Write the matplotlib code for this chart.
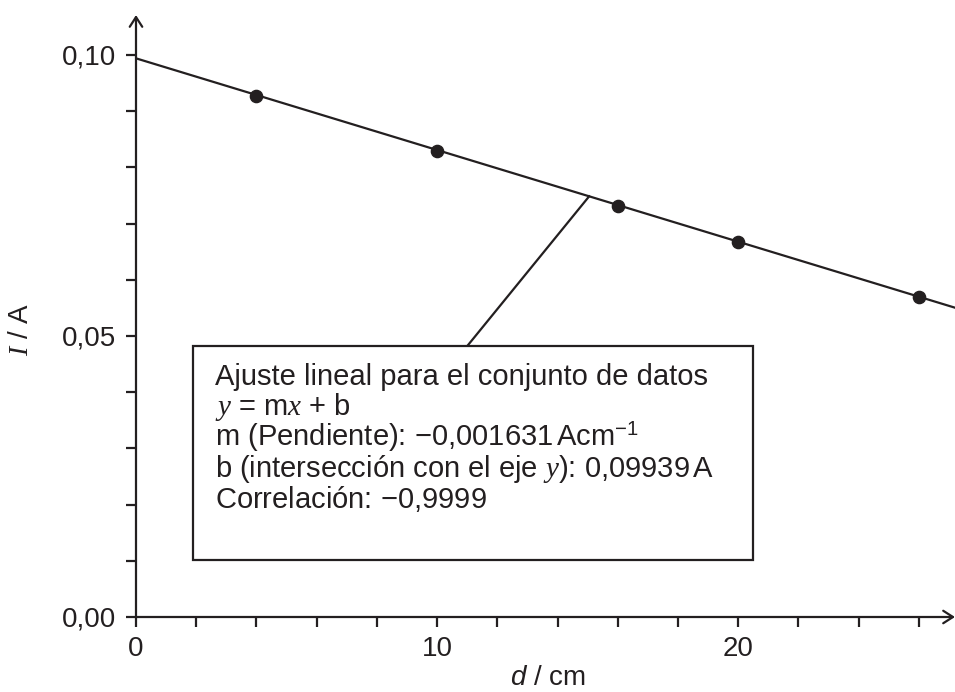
import matplotlib
matplotlib.use("Agg")
import matplotlib.pyplot as plt
from matplotlib.patches import Rectangle
from matplotlib.ticker import FixedLocator, MultipleLocator

plt.rcParams['font.family'] = ['Liberation Sans', 'DejaVu Sans']
plt.rcParams['mathtext.fontset'] = 'custom'
plt.rcParams['mathtext.rm'] = 'Liberation Sans'
plt.rcParams['mathtext.it'] = 'Liberation Serif:italic'
plt.rcParams['mathtext.sf'] = 'Liberation Sans:italic'

ink = '#231f20'

# measured points
d_cm = [4, 10, 16, 20, 26]
i_amp = [0.0927, 0.0829, 0.0731, 0.0667, 0.0570]

# fit results (from the box)
slope = -0.001631
intercept = 0.09939

x_ticks = [0, 10, 20]
x_ticklabels = ['0', '10', '20']
y_ticks = [0.00, 0.05, 0.10]
y_ticklabels = ['0,00', '0,05', '0,10']

box_lines = [
    'Ajuste lineal para el conjunto de datos',
    r'$y$ = m$x$ + b',
    r'm (Pendiente): $-$0,001631$\,$Acm$^{-1}$',
    r'b (intersección con el eje $y$): 0,09939$\,$A',
    r'Correlación: $-$0,9999',
]

fig = plt.figure(figsize=(9.55, 6.92), dpi=100)
ax = fig.add_axes([136 / 955, 75 / 692, 819 / 955, 602 / 692])
xmax, ymax = 27.2, 0.1071
ax.set_xlim(0, xmax)
ax.set_ylim(0, ymax)

for s in ax.spines.values():
    s.set_visible(False)

# axes drawn as arrows
arr = dict(arrowstyle='->,head_length=0.7,head_width=0.45', lw=1.6, color=ink,
           shrinkA=0, shrinkB=0)
ax.annotate('', xy=(0, 1), xytext=(0, 0), xycoords='axes fraction', arrowprops=arr,
            annotation_clip=False)
ax.annotate('', xy=(1.0, 0), xytext=(0, 0), xycoords='axes fraction', arrowprops=arr,
            annotation_clip=False)

ax.xaxis.set_major_locator(FixedLocator(x_ticks))
ax.set_xticklabels(x_ticklabels)
ax.xaxis.set_minor_locator(MultipleLocator(2))
ax.yaxis.set_major_locator(FixedLocator(y_ticks))
ax.set_yticklabels(y_ticklabels)
ax.yaxis.set_minor_locator(MultipleLocator(0.01))
ax.tick_params(which='both', direction='out', length=7.5, width=1.6, color=ink,
               labelsize=20, labelcolor=ink)
ax.tick_params(axis='x', which='major', pad=6)
ax.tick_params(axis='y', which='major', pad=7)

# fit line + points
ax.axline((0, intercept), slope=slope, color=ink, lw=1.6, zorder=3)
ax.plot(d_cm, i_amp, 'o', color=ink, ms=8.8, zorder=4, clip_on=False)

# pointer line and box
ax.plot([11.0, 15.05], [0.0482, intercept + slope * 15.05], color=ink, lw=1.6)
ax.add_patch(Rectangle((1.9, 0.0101), 18.6, 0.0381, facecolor='white',
                       edgecolor=ink, lw=1.6, zorder=5))

px = 5620.0  # pixels per ampere on the y axis
for k, line in enumerate(box_lines):
    yb = (617.3 - (385 + 30.75 * k)) / px
    ax.text(2.62, yb, line, fontsize=21, color=ink, va='baseline', ha='left', zorder=6)

ax.set_xlabel(r'$\mathsf{d}$ / cm', fontsize=20, color=ink)
ax.xaxis.set_label_coords(0.503, -0.08)
ax.set_ylabel(r'$I$ / A', fontsize=20, color=ink)
ax.yaxis.set_label_coords(-0.124, 0.477)

fig.savefig('out.png', dpi=100)
